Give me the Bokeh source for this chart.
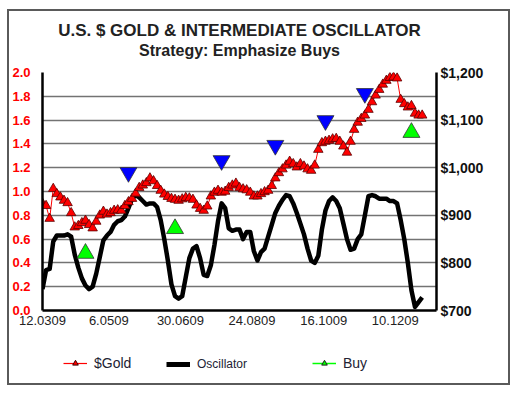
from bokeh.plotting import figure
from bokeh.layouts import column
from bokeh.models import (Range1d, LinearAxis, FixedTicker, NumeralTickFormatter,
                          Legend, LegendItem, Title)
from bokeh.embed import file_html
from bokeh.resources import INLINE

# ---- data (trading-day index) ----
day = list(range(0, 213, 2))
gold = [925, 920, 893, 956, 945, 938, 931, 926, 905, 875,
        878, 884, 889, 880, 873, 887, 900, 908, 902, 905,
        910, 911, 910, 920, 928, 935, 946, 958, 963, 968,
        978, 972, 962, 952, 944, 939, 935, 933, 931, 934,
        937, 936, 933, 921, 914, 910, 919, 940, 948, 952,
        948, 950, 958, 963, 967, 958, 955, 953, 948, 940,
        940, 945, 949, 952, 962, 978, 989, 997, 1005, 1013,
        1008, 1001, 1008, 1003, 997, 994, 1005, 1038, 1052, 1055,
        1057, 1060, 1061, 1055, 1045, 1032, 1055, 1080, 1095, 1103,
        1110, 1122, 1138, 1152, 1164, 1175, 1183, 1189, 1190, 1188,
        1143, 1134, 1127, 1130, 1114, 1110, 1110]
osc = [0.18, 0.34, 0.35, 0.58, 0.63, 0.63, 0.63, 0.64, 0.62, 0.47,
       0.36, 0.27, 0.21, 0.18, 0.20, 0.31, 0.45, 0.59, 0.63, 0.66,
       0.72, 0.75, 0.76, 0.79, 0.86, 0.94, 0.97, 0.95, 0.92, 0.89,
       0.90, 0.90, 0.87, 0.76, 0.60, 0.42, 0.22, 0.12, 0.10, 0.12,
       0.28, 0.44, 0.52, 0.54, 0.44, 0.30, 0.29, 0.38, 0.55, 0.75,
       0.90, 0.86, 0.69, 0.67, 0.68, 0.68, 0.60, 0.66, 0.66, 0.50,
       0.42, 0.49, 0.52, 0.62, 0.72, 0.82, 0.88, 0.93, 0.97, 0.96,
       0.90, 0.82, 0.73, 0.64, 0.52, 0.42, 0.40, 0.46, 0.68, 0.84,
       0.92, 0.95, 0.92, 0.86, 0.73, 0.60, 0.51, 0.52, 0.60, 0.64,
       0.80, 0.96, 0.97, 0.96, 0.94, 0.94, 0.94, 0.92, 0.92, 0.90,
       0.76, 0.60, 0.40, 0.17, 0.03, 0.07, 0.11]
buy_day = [24, 74, 206]
buy_price = [820, 872, 1074]
sell_day = [48, 100, 130, 158, 180]
sell_price = [990, 1015, 1047, 1099, 1156]
tick_day = [0, 37, 77, 117, 157, 197]
tick_labels = ["12.0309", "6.0509", "30.0609", "24.0809", "16.1009", "10.1209"]
osc_ticks = [0.0, 0.2, 0.4, 0.6, 0.8, 1.0, 1.2, 1.4, 1.6, 1.8, 2.0]
price_ticks = [700, 800, 900, 1000, 1100, 1200]

FONT = "Liberation Sans"
NAN = float("nan")

p = figure(width=499, height=325, output_backend="svg", toolbar_location=None,
           x_range=Range1d(0, 220), y_range=Range1d(0, 2.0),
           min_border_left=33, min_border_right=72, min_border_top=61,
           min_border_bottom=26, outline_line_color=None,
           background_fill_color="white", border_fill_color="white")
p.extra_y_ranges = {"price": Range1d(700, 1200)}

# titles (a blank spacer title keeps the subtitle off the plot frame)
p.add_layout(Title(text=" ", text_font=FONT, text_font_size="11px", standoff=0), "above")
p.add_layout(Title(text="Strategy: Emphasize Buys", align="center", text_font=FONT,
                   text_font_size="16px", text_font_style="bold", text_color="#222222",
                   standoff=0), "above")
p.add_layout(Title(text="U.S. $ GOLD & INTERMEDIATE OSCILLATOR", align="center",
                   text_font=FONT, text_font_size="17px", text_font_style="bold",
                   text_color="#222222", standoff=0), "above")

# grid
p.xgrid.visible = False
p.ygrid.ticker = FixedTicker(ticks=osc_ticks)
p.ygrid.grid_line_color = "#737373"
p.ygrid.grid_line_width = 1.6


def style_axis(ax):
    ax.axis_line_width = 2.5
    ax.axis_line_color = "black"
    ax.major_tick_line_color = None
    ax.minor_tick_line_color = None
    ax.major_tick_out = 0
    ax.major_tick_in = 0
    ax.minor_tick_out = 0
    ax.major_label_text_font = FONT


# left axis
ya = p.yaxis[0]
style_axis(ya)
ya.ticker = FixedTicker(ticks=osc_ticks)
ya.formatter = NumeralTickFormatter(format="0.0")
ya.major_label_text_color = "#ff0000"
ya.major_label_text_font_style = "bold"
ya.major_label_text_font_size = "13px"
ya.major_label_standoff = 12

# right axis
ra = LinearAxis(y_range_name="price", ticker=FixedTicker(ticks=price_ticks),
                formatter=NumeralTickFormatter(format="$0,0"))
style_axis(ra)
ra.major_label_text_font_style = "bold"
ra.major_label_text_font_size = "14px"
ra.major_label_text_color = "#111111"
ra.major_label_standoff = 4
p.add_layout(ra, "right")

# bottom axis
xa = p.xaxis[0]
style_axis(xa)
xa.ticker = FixedTicker(ticks=tick_day)
xa.major_label_overrides = {d: s for d, s in zip(tick_day, tick_labels)}
xa.major_label_text_font_size = "13px"
xa.major_label_text_color = "#222222"
xa.major_label_standoff = 5

# series
p.line(day, osc, line_color="black", line_width=4.5, line_join="round")
p.line(day, gold, y_range_name="price", line_color="#ff0000", line_width=1)
p.scatter(day, gold, y_range_name="price", marker="triangle", size=9.5,
          fill_color="#ff0000", line_color="#5a0000", line_width=0.8)
p.scatter(sell_day, sell_price, y_range_name="price", marker="inverted_triangle",
          size=17, fill_color="#0000ff", line_color="#333333", line_width=0.8)
p.scatter(buy_day, buy_price, y_range_name="price", marker="triangle",
          size=17, fill_color="#00ff00", line_color="#333333", line_width=0.8)

# ---- legend strip (separate figure so it can sit below the axis) ----
lg = figure(width=499, height=47, output_backend="svg", toolbar_location=None,
            x_range=Range1d(0, 1), y_range=Range1d(0, 1), min_border=0,
            min_border_left=0, min_border_right=0, min_border_top=0, min_border_bottom=0,
            x_axis_location=None, y_axis_location=None, outline_line_color=None,
            background_fill_color="white", border_fill_color="white")
lg.grid.visible = False
g_line = lg.line([NAN], [NAN], line_color="#ff0000", line_width=1.2)
g_pts = lg.scatter([NAN], [NAN], marker="triangle", size=13, fill_color="#ff0000",
                   line_color="#3a0000", line_width=1)
o_line = lg.line([NAN], [NAN], line_color="black", line_width=5)
b_line = lg.line([NAN], [NAN], line_color="#00ff00", line_width=1.5)
b_pts = lg.scatter([NAN], [NAN], marker="triangle", size=13, fill_color="#00ff00",
                   line_color="#222222", line_width=1)


def mk_legend(label, rends, loc, size):
    leg = Legend(items=[LegendItem(label=label, renderers=rends)], location=loc,
                 border_line_color=None, background_fill_alpha=0, padding=0, margin=0,
                 glyph_width=24, glyph_height=14, label_standoff=7, label_text_font=FONT,
                 label_text_font_size=size, label_text_color="#222233")
    lg.add_layout(leg, "center")


mk_legend("$Gold", [g_line, g_pts], (21, 12), "14px")
mk_legend("Oscillator", [o_line], (124, 12), "12px")
mk_legend("Buy", [b_line, b_pts], (270, 12), "14px")

layout = column(p, lg, spacing=0,
                styles={"border": "2px solid #5a5a5a", "margin-left": "7px",
                        "margin-top": "9px", "background": "white"})

open("out.html", "w").write(file_html(layout, INLINE))
